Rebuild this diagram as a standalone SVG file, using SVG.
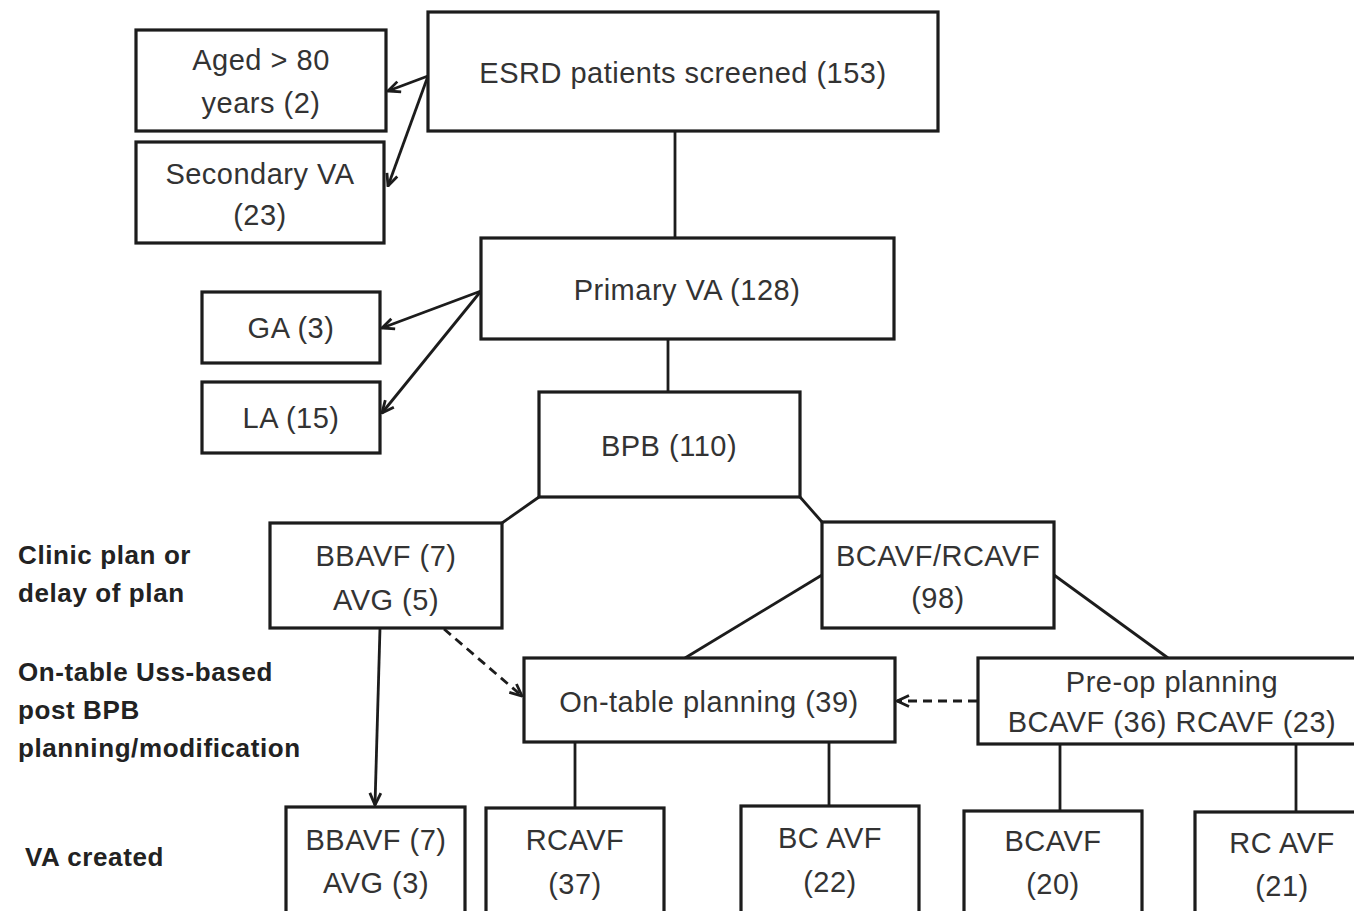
<svg xmlns="http://www.w3.org/2000/svg" width="1354" height="911" viewBox="0 0 1354 911">
<style>
.box{fill:#fff;stroke:#1c1c1c;stroke-width:3.2}
.t{font-family:"Liberation Sans",Arial,sans-serif;font-size:29px;fill:#333;text-anchor:middle;letter-spacing:0.5px}
.lb{font-family:"Liberation Sans",Arial,sans-serif;font-size:26px;font-weight:bold;fill:#222;letter-spacing:0.6px}
.c{stroke:#1c1c1c;stroke-width:2.8;fill:none}
.d{stroke:#1c1c1c;stroke-width:2.8;fill:none;stroke-dasharray:9 6}
</style>
<defs>
<marker id="ah" viewBox="0 0 14 14" refX="13" refY="7" markerWidth="14" markerHeight="14" markerUnits="userSpaceOnUse" orient="auto">
<path d="M1,1.5 L13,7 L1,12.5" fill="none" stroke="#1c1c1c" stroke-width="2.8"/>
</marker>
</defs>
<rect width="1354" height="911" fill="#fff"/>
<g id="connectors">
<line class="c" x1="675" y1="131" x2="675" y2="238"/>
<line class="c" x1="428" y1="76" x2="388" y2="91" marker-end="url(#ah)"/>
<line class="c" x1="428" y1="76" x2="388" y2="186" marker-end="url(#ah)"/>
<line class="c" x1="481" y1="291" x2="382" y2="328" marker-end="url(#ah)"/>
<line class="c" x1="481" y1="291" x2="382" y2="413" marker-end="url(#ah)"/>
<line class="c" x1="668" y1="339" x2="668" y2="392"/>
<line class="c" x1="539" y1="497" x2="502" y2="523"/>
<line class="c" x1="800" y1="497" x2="822" y2="522"/>
<line class="c" x1="822" y1="575" x2="685" y2="658"/>
<line class="c" x1="1054" y1="575" x2="1168" y2="658"/>
<line class="c" x1="380" y1="628" x2="375" y2="805" marker-end="url(#ah)"/>
<line class="d" x1="444" y1="629" x2="522" y2="696" marker-end="url(#ah)"/>
<line class="d" x1="977" y1="701" x2="897" y2="701" marker-end="url(#ah)"/>
<line class="c" x1="575" y1="742" x2="575" y2="808"/>
<line class="c" x1="829" y1="742" x2="829" y2="806"/>
<line class="c" x1="1060" y1="744" x2="1060" y2="811"/>
<line class="c" x1="1296" y1="744" x2="1296" y2="812"/>
</g>
<g id="esrd"><rect class="box" x="428" y="12" width="510" height="119"/><text class="t" x="683" y="83">ESRD patients screened (153)</text></g>
<g id="aged"><rect class="box" x="136" y="30" width="250" height="101"/><text class="t" x="261" y="70">Aged &gt; 80</text><text class="t" x="261" y="113">years (2)</text></g>
<g id="secondary"><rect class="box" x="136" y="142" width="248" height="101"/><text class="t" x="260" y="184">Secondary VA</text><text class="t" x="260" y="225">(23)</text></g>
<g id="primary"><rect class="box" x="481" y="238" width="413" height="101"/><text class="t" x="687" y="300">Primary VA (128)</text></g>
<g id="ga"><rect class="box" x="202" y="292" width="178" height="71"/><text class="t" x="291" y="338">GA (3)</text></g>
<g id="la"><rect class="box" x="202" y="382" width="178" height="71"/><text class="t" x="291" y="428">LA (15)</text></g>
<g id="bpb"><rect class="box" x="539" y="392" width="261" height="105"/><text class="t" x="669" y="456">BPB (110)</text></g>
<g id="bbavf1"><rect class="box" x="270" y="523" width="232" height="105"/><text class="t" x="386" y="566">BBAVF (7)</text><text class="t" x="386" y="610">AVG (5)</text></g>
<g id="bcavf98"><rect class="box" x="822" y="522" width="232" height="106"/><text class="t" x="938" y="566">BCAVF/RCAVF</text><text class="t" x="938" y="608">(98)</text></g>
<g id="ontable"><rect class="box" x="524" y="658" width="371" height="84"/><text class="t" x="709" y="712">On-table planning (39)</text></g>
<g id="preop"><rect class="box" x="978" y="658" width="380" height="86"/><text class="t" x="1172" y="692">Pre-op planning</text><text class="t" x="1172" y="732">BCAVF (36) RCAVF (23)</text></g>
<g id="bbavf2"><rect class="box" x="286" y="807" width="179" height="110"/><text class="t" x="376" y="850">BBAVF (7)</text><text class="t" x="376" y="893">AVG (3)</text></g>
<g id="rcavf37"><rect class="box" x="486" y="808" width="178" height="110"/><text class="t" x="575" y="850">RCAVF</text><text class="t" x="575" y="894">(37)</text></g>
<g id="bcavf22"><rect class="box" x="741" y="806" width="178" height="110"/><text class="t" x="830" y="848">BC AVF</text><text class="t" x="830" y="892">(22)</text></g>
<g id="bcavf20"><rect class="box" x="964" y="811" width="178" height="110"/><text class="t" x="1053" y="851">BCAVF</text><text class="t" x="1053" y="894">(20)</text></g>
<g id="rcavf21"><rect class="box" x="1195" y="812" width="170" height="110"/><text class="t" x="1282" y="853">RC AVF</text><text class="t" x="1282" y="896">(21)</text></g>
<g id="labels">
<text class="lb" x="18" y="564">Clinic plan or</text>
<text class="lb" x="18" y="602">delay of plan</text>
<text class="lb" x="18" y="681">On-table Uss-based</text>
<text class="lb" x="18" y="719">post BPB</text>
<text class="lb" x="18" y="757">planning/modification</text>
<text class="lb" x="25" y="866">VA created</text>
</g>
</svg>
